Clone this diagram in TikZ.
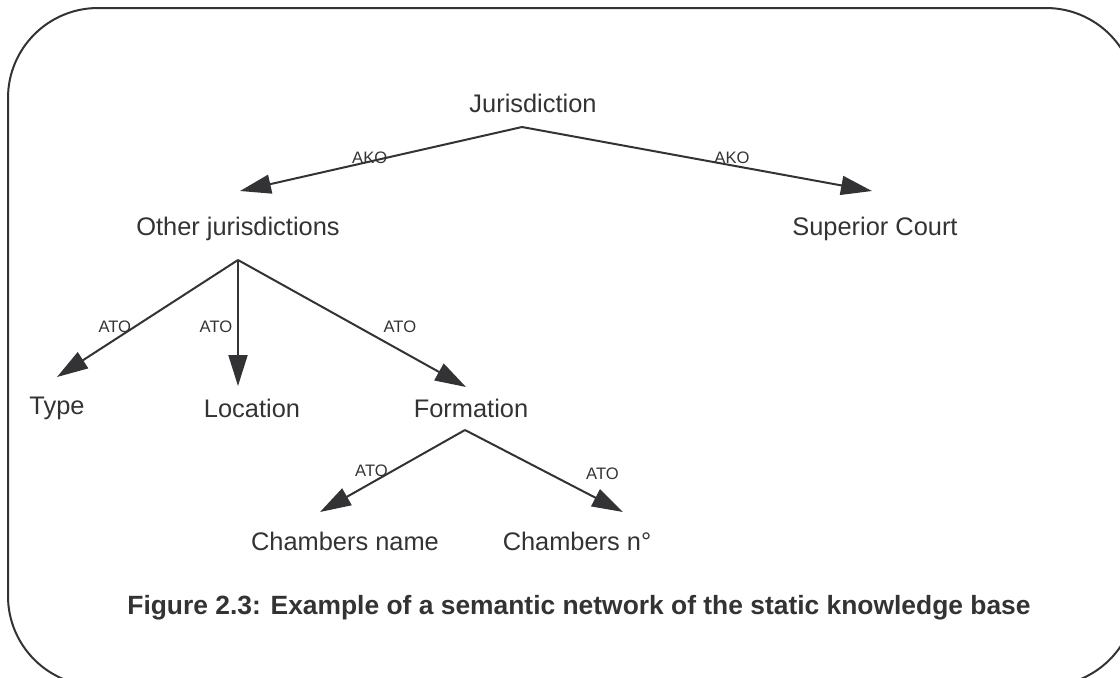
\documentclass[tikz,border=0pt]{standalone}
\usepackage{fontspec}
\setmainfont{Liberation Sans}
\usetikzlibrary{arrows.meta}
\definecolor{ink}{HTML}{333336}
\tikzset{
  concept/.style={font=\fontsize{12.7}{15}\selectfont, text=ink, inner sep=0pt},
  rel/.style={font=\fontsize{8.3}{10}\selectfont, text=ink, inner sep=0pt},
  link/.style={draw=ink, line width=1pt, -{Triangle[length=15.5pt,width=9.5pt]}},
  caption/.style={font=\bfseries\fontsize{13.2}{16}\selectfont, text=ink, inner sep=0pt},
}
\begin{document}
\begin{tikzpicture}[x=0.5pt,y=-0.5pt]
\useasboundingbox (0,0) rectangle (1120,677);
\clip (0,0) rectangle (1120,677);
\draw[ink, line width=1pt, rounded corners=45pt] (8,8) rectangle (1136,686);
% concepts
\node[concept] (jur) at (533,103) {Jurisdiction};
\node[concept] (other) at (238,229) {Other jurisdictions};
\node[concept] (sup) at (875,229) {Superior Court};
\node[concept] (type) at (57,408) {Type};
\node[concept] (loc) at (252,408) {Location};
\node[concept] (form) at (471,408) {Formation};
\node[concept] (chname) at (345,541) {Chambers name};
\node[concept] (chno) at (577,541) {Chambers n°};
% where the links start and end
\coordinate (jur-root) at (522,127);
\coordinate (other-root) at (238,260);
\coordinate (form-root) at (465,430);
\coordinate (other-in) at (240,191);
\coordinate (sup-in) at (872,191);
\coordinate (type-in) at (57,377);
\coordinate (loc-in) at (238,386);
\coordinate (form-in) at (466,387);
\coordinate (chname-in) at (320,512);
\coordinate (chno-in) at (623,512);
% links
\draw[link] (jur-root) -- node[rel,pos=0.54,yshift=2pt] {AKO} (other-in);
\draw[link] (jur-root) -- node[rel,pos=0.6,yshift=4pt] {AKO} (sup-in);
\draw[link] (other-root) -- node[rel,pos=0.57,xshift=-10pt] {ATO} (type-in);
\draw[link] (other-root) -- node[rel,pos=0.53,xshift=-11pt] {ATO} (loc-in);
\draw[link] (other-root) -- node[rel,pos=0.71,yshift=11.5pt] {ATO} (form-in);
\draw[link] (form-root) -- node[rel,pos=0.5,xshift=-10.5pt] {ATO} (chname-in);
\draw[link] (form-root) -- node[rel,pos=0.87,yshift=14pt] {ATO} (chno-in);
\node[caption] (cap) at (579,608) {Figure 2.3: Example of a semantic network of the static knowledge base};
\end{tikzpicture}
\end{document}
